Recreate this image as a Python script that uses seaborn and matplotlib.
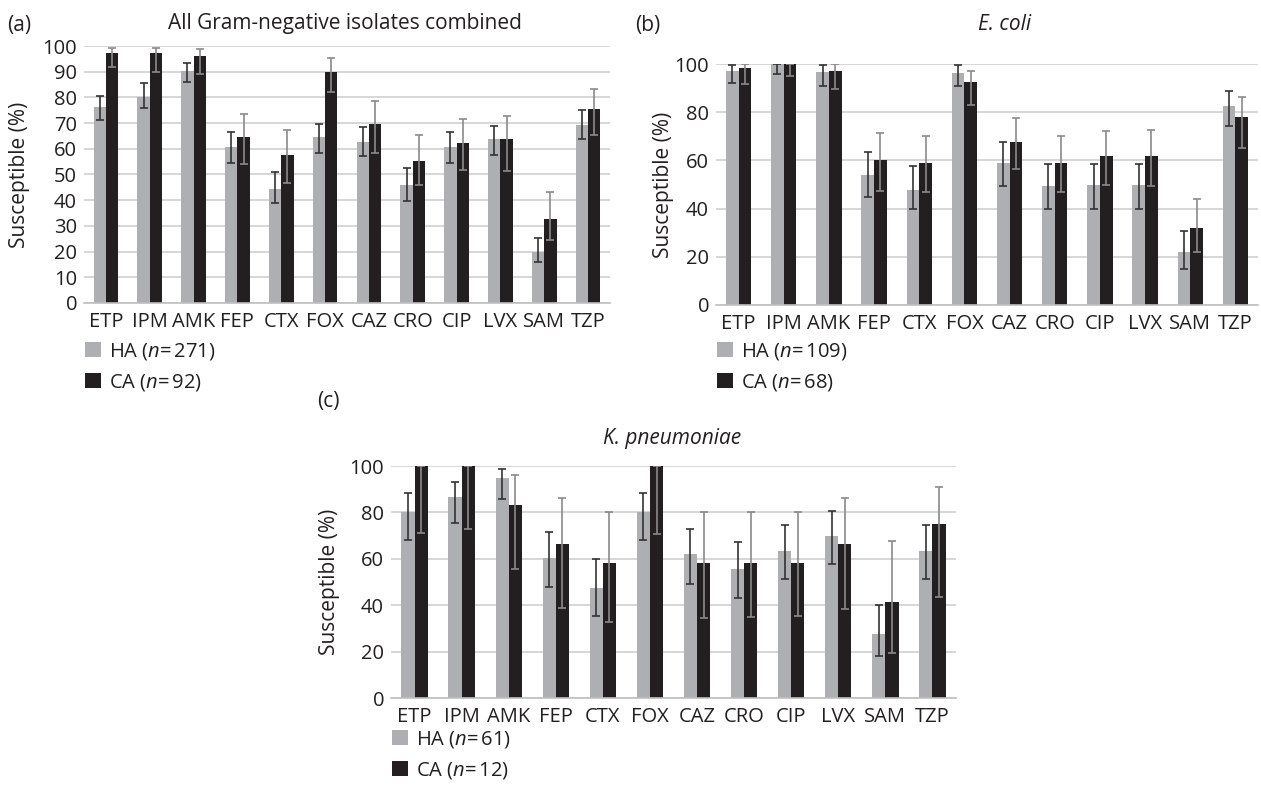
import numpy as np
import pandas as pd
import matplotlib
matplotlib.use("Agg")
import matplotlib.pyplot as plt
import seaborn as sns
from matplotlib.patches import Patch

drugs = ["ETP", "IPM", "AMK", "FEP", "CTX", "FOX", "CAZ", "CRO", "CIP", "LVX", "SAM", "TZP"]

# Panel (a): all Gram-negative isolates
a_ha = [76.3, 80.2, 90.3, 60.6, 44.3, 64.4, 62.5, 45.9, 60.6, 63.7, 19.8, 69.1]
a_ha_lo = [71.3, 76.0, 86.1, 54.6, 38.9, 58.2, 57.1, 39.8, 54.6, 57.6, 15.8, 63.8]
a_ha_hi = [80.5, 85.6, 93.4, 66.6, 50.8, 69.7, 68.4, 52.6, 66.5, 68.8, 25.4, 75.1]
a_ca = [97.2, 97.2, 96.0, 64.4, 57.7, 89.8, 69.8, 55.4, 62.1, 63.7, 32.7, 75.6]
a_ca_lo = [91.8, 89.8, 89.2, 54.0, 46.8, 82.0, 58.5, 46.0, 51.7, 51.4, 24.6, 65.3]
a_ca_hi = [99.2, 99.2, 98.7, 73.5, 67.5, 95.4, 78.5, 65.3, 71.5, 72.8, 43.3, 83.4]

# Panel (b): E. coli
b_ha = [97.2, 100.0, 96.5, 53.9, 47.6, 96.4, 58.8, 49.4, 49.8, 49.8, 21.9, 82.7]
b_ha_lo = [92.2, 96.0, 90.8, 44.9, 39.8, 90.8, 49.5, 39.8, 39.8, 39.8, 15.1, 74.1]
b_ha_hi = [99.4, 100.0, 99.4, 63.5, 57.8, 99.4, 67.5, 58.7, 58.7, 58.7, 30.7, 88.9]
b_ca = [98.3, 100.0, 97.2, 60.3, 59.0, 92.6, 67.6, 58.8, 61.9, 61.9, 31.9, 78.1]
b_ca_lo = [91.8, 94.9, 89.7, 47.2, 46.8, 82.8, 56.3, 47.0, 49.8, 49.5, 21.9, 65.0]
b_ca_hi = [100.0, 100.0, 100.0, 71.2, 70.1, 96.9, 77.5, 70.0, 72.3, 72.6, 44.0, 86.1]

# Panel (c): K. pneumoniae
c_ha = [80.0, 86.6, 94.7, 60.2, 47.4, 80.0, 62.2, 55.6, 63.4, 69.8, 27.7, 63.4]
c_ha_lo = [68.0, 75.4, 85.7, 48.0, 35.3, 68.0, 49.2, 43.2, 51.1, 57.8, 18.0, 51.1]
c_ha_hi = [88.3, 93.0, 98.7, 71.7, 59.8, 88.3, 72.9, 67.1, 74.7, 80.7, 40.0, 74.7]
c_ca = [100.0, 100.0, 83.1, 66.4, 58.1, 100.0, 58.2, 58.2, 58.2, 66.4, 41.4, 74.8]
c_ca_lo = [71.0, 72.8, 55.4, 38.8, 32.7, 70.8, 34.6, 35.0, 35.5, 38.2, 19.2, 43.5]
c_ca_hi = [100.0, 100.0, 96.0, 86.0, 80.0, 100.0, 80.0, 80.0, 80.0, 86.1, 67.8, 91.1]

groups = ["HA", "CA"]
n_a = [271, 92]
n_b = [109, 68]
n_c = [61, 12]

HA_COL = "#AEAFB2"
CA_COL = "#231F20"
HA_ERR = "#333333"
CA_ERR = "#8a8a8a"
TXT = "#231F20"

sns.set_theme(style="white")
plt.rcParams["font.family"] = ["Open Sans", "DejaVu Sans"]
plt.rcParams["mathtext.fontset"] = "custom"
plt.rcParams["mathtext.it"] = "Open Sans:italic"
plt.rcParams["mathtext.rm"] = "Open Sans"
plt.rcParams["text.color"] = TXT

W, H = 1261, 787
fig = plt.figure(figsize=(W / 100, H / 100), dpi=100)

FS = 14.5
FS_T = 15


def panel(px, ha, ha_lo, ha_hi, ca, ca_lo, ca_hi, ns, ystep, title, title_italic,
          tag, tag_xy, title_xy, ylab_x, leg_off):
    x0, x1, ytop, ybot = px
    rect = [x0 / W, 1 - ybot / H, (x1 - x0) / W, (ybot - ytop) / H]
    ax = fig.add_axes(rect)
    df = pd.DataFrame({
        "drug": drugs * 2,
        "group": ["HA"] * len(drugs) + ["CA"] * len(drugs),
        "value": list(ha) + list(ca),
    })
    sns.barplot(data=df, x="drug", y="value", hue="group", order=drugs,
                hue_order=groups, palette=[HA_COL, CA_COL], width=0.56,
                errorbar=None, ax=ax, legend=False, saturation=1, linewidth=0)
    for cont, vals, lo, hi, ecol in [
        (ax.containers[0], ha, ha_lo, ha_hi, HA_ERR),
        (ax.containers[1], ca, ca_lo, ca_hi, CA_ERR),
    ]:
        xs = [b.get_x() + b.get_width() / 2 for b in cont]
        v = np.array(vals)
        yerr = np.vstack([v - np.array(lo), np.array(hi) - v])
        ax.errorbar(xs, v, yerr=yerr, fmt="none", ecolor=ecol, elinewidth=1.2,
                    capsize=2.8, capthick=1.2, zorder=3)
    ax.set_ylim(0, 100)
    ax.set_xlim(-0.5, len(drugs) - 0.5)
    ax.set_yticks(np.arange(0, 101, ystep))
    ax.yaxis.grid(True, color="#CFCFCF", linewidth=1.2)
    ax.set_axisbelow(True)
    for s in ["top", "right", "left"]:
        ax.spines[s].set_visible(False)
    ax.spines["bottom"].set_color("#BFBFBF")
    ax.spines["bottom"].set_linewidth(1.2)
    ax.tick_params(axis="x", length=0, labelsize=FS, colors=TXT, pad=6.5)
    ax.tick_params(axis="y", length=0, labelsize=FS, colors=TXT, pad=5)
    ax.set_xlabel("")
    ax.set_ylabel("")
    fig.text(ylab_x / W, 1 - (ytop + ybot) / 2 / H, "Susceptible (%)", rotation=90,
             ha="center", va="center", fontsize=FS_T, color=TXT)
    fig.text(tag_xy[0] / W, 1 - tag_xy[1] / H, tag, fontsize=FS_T, ha="left",
             va="center", color=TXT)
    fig.text(title_xy[0] / W, 1 - title_xy[1] / H, title, fontsize=FS_T, ha="center",
             va="center", style="italic" if title_italic else "normal", color=TXT)
    handles = [Patch(facecolor=HA_COL, edgecolor="none"),
               Patch(facecolor=CA_COL, edgecolor="none")]
    labels = [rf"HA ($n$=$\,${ns[0]})", rf"CA ($n$=$\,${ns[1]})"]
    fig.legend(handles, labels, loc="upper left",
               bbox_to_anchor=((x0 + 1) / W, 1 - (ybot + leg_off) / H),
               frameon=False, fontsize=FS, handlelength=0.78, handleheight=0.72,
               handletextpad=0.4, labelspacing=0.5, borderaxespad=0, borderpad=0)
    return ax


panel((84, 610, 46, 303), a_ha, a_ha_lo, a_ha_hi, a_ca, a_ca_lo, a_ca_hi, n_a, 10,
      "All Gram-negative isolates combined", False, "(a)", (7, 25), (345, 24), 20, 38)
panel((716, 1258, 64, 305), b_ha, b_ha_lo, b_ha_hi, b_ca, b_ca_lo, b_ca_hi, n_b, 20,
      "E. coli", True, "(b)", (635, 25), (1005, 24), 664, 36)
panel((391, 956, 466, 698), c_ha, c_ha_lo, c_ha_hi, c_ca, c_ca_lo, c_ca_hi, n_c, 20,
      "K. pneumoniae", True, "(c)", (317, 402), (672, 438), 329, 31)

fig.savefig("out.png", dpi=100, facecolor="white")
